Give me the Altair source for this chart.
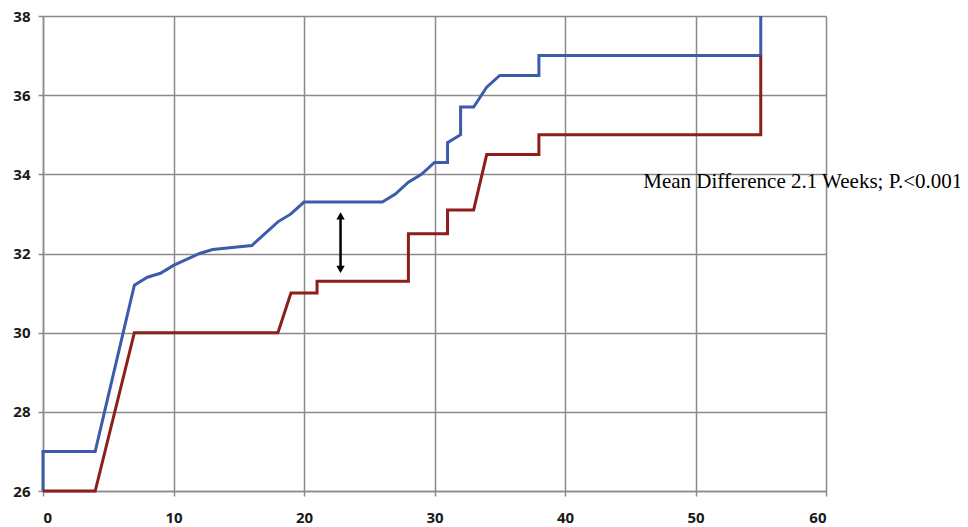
import altair as alt
import pandas as pd

# Blue series (upper curve)
blue_x = [0, 0, 4, 7, 8, 9, 10, 12, 13, 16, 18, 19, 20, 26, 27, 28, 29, 30, 31, 31, 32, 32, 33, 34, 35, 38, 38, 55, 55]
blue_y = [26, 27, 27, 31.2, 31.4, 31.5, 31.7, 32.0, 32.1, 32.2, 32.8, 33.0, 33.3, 33.3, 33.5, 33.8, 34.0, 34.3, 34.3, 34.8, 35.0, 35.7, 35.7, 36.2, 36.5, 36.5, 37.0, 37.0, 38.0]

# Red series (lower curve)
red_x = [0, 4, 7, 18, 19, 21, 21, 28, 28, 31, 31, 33, 34, 38, 38, 55, 55]
red_y = [26, 26, 30, 30, 31, 31, 31.3, 31.3, 32.5, 32.5, 33.1, 33.1, 34.5, 34.5, 35.0, 35.0, 37.0]

x_ticks = [0, 10, 20, 30, 40, 50, 60]
y_ticks = [26, 28, 30, 32, 34, 36, 38]

annotation_text = ["Mean Difference 2.1 Weeks; P.<0.001"]
annotation_x = [46.0]
annotation_y = [33.8]

arrow_x = [22.8]
arrow_top = [32.95]
arrow_bottom = [31.6]

blue_df = pd.DataFrame({"x": blue_x, "y": blue_y, "i": range(len(blue_x))})
red_df = pd.DataFrame({"x": red_x, "y": red_y, "i": range(len(red_x))})
ann_df = pd.DataFrame({"x": annotation_x, "y": annotation_y, "t": annotation_text})
arrow_df = pd.DataFrame({"x": arrow_x, "y1": arrow_top, "y2": arrow_bottom})

xs = alt.Scale(domain=[0, 60], nice=False)
ys = alt.Scale(domain=[26, 38], nice=False, zero=False)

x_axis = alt.Axis(values=x_ticks, title=None, labelPadding=14, format="d")
y_axis = alt.Axis(values=y_ticks, title=None, labelPadding=8, format="d")

blue = alt.Chart(blue_df).mark_line(color="#3a5cab", strokeWidth=3).encode(
    x=alt.X("x:Q", scale=xs, axis=x_axis),
    y=alt.Y("y:Q", scale=ys, axis=y_axis),
    order="i:Q",
)
red = alt.Chart(red_df).mark_line(color="#8c1f1c", strokeWidth=3).encode(
    x=alt.X("x:Q", scale=xs),
    y=alt.Y("y:Q", scale=ys),
    order="i:Q",
)

arrow_rule = alt.Chart(arrow_df).mark_rule(color="black", strokeWidth=2.5).encode(
    x=alt.X("x:Q", scale=xs), y=alt.Y("y1:Q", scale=ys), y2="y2:Q"
)
arrow_up = alt.Chart(arrow_df).mark_point(
    shape="triangle-up", filled=True, color="black", size=70, opacity=1
).encode(x=alt.X("x:Q", scale=xs), y=alt.Y("y1:Q", scale=ys))
arrow_down = alt.Chart(arrow_df).mark_point(
    shape="triangle-down", filled=True, color="black", size=70, opacity=1
).encode(x=alt.X("x:Q", scale=xs), y=alt.Y("y2:Q", scale=ys))

text = alt.Chart(ann_df).mark_text(
    font="Liberation Serif", fontSize=21, align="left", baseline="middle", color="black"
).encode(x=alt.X("x:Q", scale=xs), y=alt.Y("y:Q", scale=ys), text="t:N")

chart = (
    alt.layer(blue, red, arrow_rule, arrow_up, arrow_down, text)
    .properties(
        width=783,
        height=475,
        autosize=alt.AutoSizeParams(type="none"),
        padding={"left": 35, "top": 8, "right": 134, "bottom": 35},
    )
    .configure_view(stroke=None)
    .configure_axis(
        grid=True,
        gridColor="#8a8a8a",
        gridWidth=1.5,
        gridOpacity=1,
        domainColor="#8a8a8a",
        domainWidth=1.5,
        tickColor="#8a8a8a",
        tickWidth=1.5,
        tickSize=5,
        labelFont="Open Sans",
        labelFontWeight="bold",
        labelFontSize=15,
        labelColor="#1a1a1a",
    )
)

chart.save("out.html", embed_options={"renderer": "svg", "actions": False})
